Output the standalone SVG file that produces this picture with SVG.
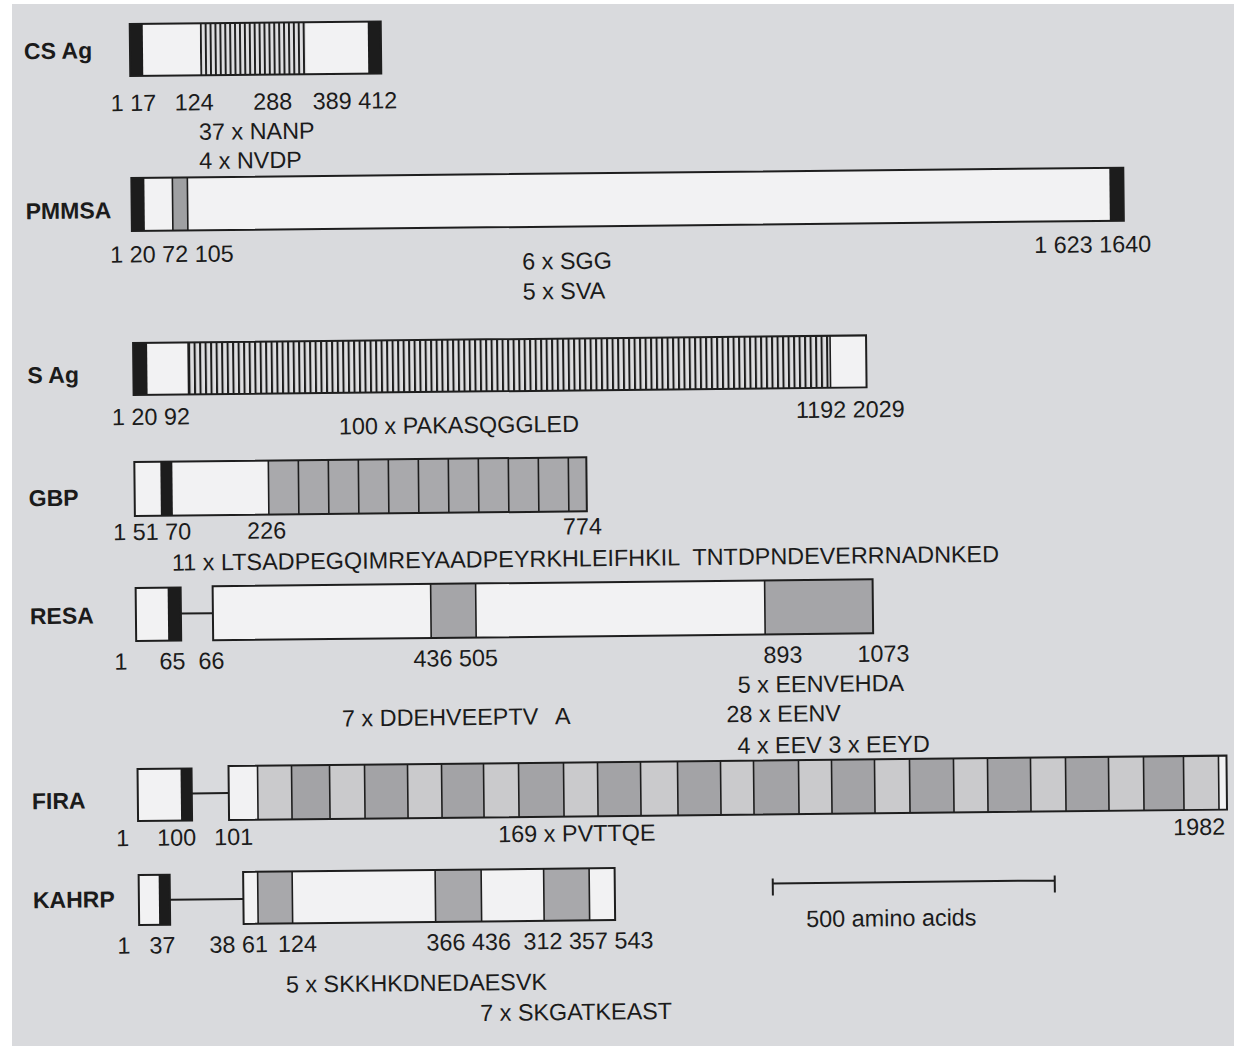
<svg xmlns="http://www.w3.org/2000/svg" width="1234" height="1050" viewBox="0 0 1234 1050">
<defs>
<style>
.lbl{font-family:'Liberation Sans',Arial,sans-serif;font-weight:bold;font-size:23px;fill:#1b1b1b}
.t{font-family:'Liberation Sans',Arial,sans-serif;font-size:23.4px;fill:#1b1b1b}
.box{fill:none;stroke:#1e1e1e;stroke-width:2}
.wh{fill:#f2f2f3}
.blk{fill:#1c1c1c}
.g1{fill:#cacacc}
.g2{fill:#a3a3a6}
.div{fill:none;stroke:#1e1e1e;stroke-width:1.6}
.conn{stroke:#1e1e1e;stroke-width:2;fill:none}
</style>
<pattern id="hatchCS" x="205" y="0" width="4.9" height="10" patternUnits="userSpaceOnUse"><rect width="4.9" height="10" fill="#dedee0"/><rect width="1.9" height="10" fill="#1c1c1c"/></pattern>
<pattern id="hatchS" x="190" y="0" width="5.5" height="10" patternUnits="userSpaceOnUse"><rect width="5.5" height="10" fill="#dedee0"/><rect width="2" height="10" fill="#1c1c1c"/></pattern>
</defs>
<rect width="1234" height="1050" fill="#ffffff"/>
<rect x="12" y="4" width="1222" height="1042" fill="#d9dadd"/>
<g transform="rotate(-0.6 617 525)">

<g id="cs-ag">
<rect class="wh" x="135" y="19" width="251" height="52"/>
<rect class="blk" x="135" y="19" width="13" height="52"/>
<rect x="205" y="19" width="106" height="52" fill="url(#hatchCS)"/>
<rect class="blk" x="373" y="19" width="13" height="52"/>
<rect class="box" x="135" y="19" width="251" height="52"/>
<text class="lbl" x="29" y="53">CS Ag</text>
<text class="t" x="115" y="106">1 17</text>
<text class="t" x="179" y="106">124</text>
<text class="t" x="257.5" y="106">288</text>
<text class="t" x="317" y="106">389 412</text>
<text class="t" x="203" y="135.5">37 x NANP</text>
<text class="t" x="203" y="164.5">4 x NVDP</text>
</g>

<g id="pmmsa">
<rect class="wh" x="135" y="173" width="992" height="53"/>
<rect class="blk" x="135" y="173" width="13" height="53"/>
<rect x="176" y="173" width="15" height="53" fill="#9fa0a2"/>
<path class="div" d="M176 173V226M191 173V226"/>
<rect class="blk" x="1113" y="173" width="14" height="53"/>
<rect class="box" x="135" y="173" width="992" height="53"/>
<text class="lbl" x="29" y="213">PMMSA</text>
<text class="t" x="113" y="257.5">1 20 72 105</text>
<text class="t" x="1037" y="257.5">1 623 1640</text>
<text class="t" x="525" y="268.5">6 x SGG</text>
<text class="t" x="525" y="298.5">5 x SVA</text>
</g>

<g id="s-ag">
<rect class="wh" x="135" y="338" width="733" height="52"/>
<rect class="blk" x="135" y="338" width="14" height="52"/>
<rect x="190" y="338" width="642" height="52" fill="url(#hatchS)"/>
<path class="div" d="M190 338V390M832 338V390"/>
<rect class="box" x="135" y="338" width="733" height="52"/>
<text class="lbl" x="29" y="377">S Ag</text>
<text class="t" x="113" y="420">1 20 92</text>
<text class="t" x="797" y="420">1192 2029</text>
<text class="t" x="340" y="431.5">100 x PAKASQGGLED</text>
</g>

<g id="gbp">
<rect class="wh" x="135" y="457" width="452" height="54"/>
<rect class="blk" x="161" y="457" width="12" height="54"/>
<rect x="269" y="457" width="318" height="54" fill="#a9a9ac"/>
<path class="div" d="M269 457V511M299 457V511M329 457V511M359 457V511M389 457V511M419 457V511M449 457V511M479 457V511M509 457V511M539 457V511M569 457V511"/>
<rect class="box" x="135" y="457" width="452" height="54"/>
<text class="lbl" x="29" y="500">GBP</text>
<text class="t" x="113" y="535">1 51 70</text>
<text class="t" x="247" y="535">226</text>
<text class="t" x="563" y="534">774</text>
<text class="t" x="171.6" y="566">11 x LTSADPEGQIMREYAADPEYRKHLEIFHKIL</text>
<text class="t" x="692" y="566">TNTDPNDEVERRNADNKED</text>
</g>

<g id="resa">
<rect class="wh" x="135" y="583" width="45" height="53"/>
<rect class="blk" x="167" y="583" width="13" height="53"/>
<rect class="box" x="135" y="583" width="45" height="53"/>
<rect class="wh" x="212" y="582" width="660" height="54"/>
<rect x="430" y="582" width="45" height="54" fill="#a5a5a8"/>
<rect x="764" y="582" width="108" height="54" fill="#a5a5a8"/>
<path class="div" d="M430 582V636M475 582V636M764 582V636"/>
<rect class="box" x="212" y="582" width="660" height="54"/>
<text class="lbl" x="29" y="618">RESA</text>
<text class="t" x="113" y="664.5">1</text>
<text class="t" x="158" y="664.5">65</text>
<text class="t" x="197" y="664.5">66</text>
<text class="t" x="412" y="664.5">436 505</text>
<text class="t" x="762" y="664.5">893</text>
<text class="t" x="856" y="664.5">1073</text>
<text class="t" x="736" y="694">5 x EENVEHDA</text>
<text class="t" x="340" y="723.5">7 x DDEHVEEPTV<tspan x="553">A</tspan></text>
<text class="t" x="724.5" y="723.5">28 x EENV</text>
<text class="t" x="735" y="755">4 x EEV 3 x EEYD</text>
</g>

<g id="fira">
<rect class="wh" x="135" y="764" width="54" height="52"/>
<rect class="blk" x="178" y="764" width="11" height="52"/>
<rect class="box" x="135" y="764" width="54" height="52"/>
<rect class="wh" x="226" y="762" width="998" height="54"/>
<g class="g1">
<rect x="255" y="762" width="34" height="54"/><rect x="327" y="762" width="35" height="54"/><rect x="405" y="762" width="34" height="54"/><rect x="481" y="762" width="35" height="54"/><rect x="561" y="762" width="34" height="54"/><rect x="638" y="762" width="37" height="54"/><rect x="718" y="762" width="33" height="54"/><rect x="796" y="762" width="33" height="54"/><rect x="872" y="762" width="35" height="54"/><rect x="951" y="762" width="34" height="54"/><rect x="1028" y="762" width="35" height="54"/><rect x="1106" y="762" width="35" height="54"/><rect x="1181" y="762" width="35" height="54"/>
</g>
<g class="g2">
<rect x="289" y="762" width="38" height="54"/><rect x="362" y="762" width="43" height="54"/><rect x="439" y="762" width="42" height="54"/><rect x="516" y="762" width="45" height="54"/><rect x="595" y="762" width="43" height="54"/><rect x="675" y="762" width="43" height="54"/><rect x="751" y="762" width="45" height="54"/><rect x="829" y="762" width="43" height="54"/><rect x="907" y="762" width="44" height="54"/><rect x="985" y="762" width="43" height="54"/><rect x="1063" y="762" width="43" height="54"/><rect x="1141" y="762" width="40" height="54"/>
</g>
<path class="div" d="M255 762V816M289 762V816M327 762V816M362 762V816M405 762V816M439 762V816M481 762V816M516 762V816M561 762V816M595 762V816M638 762V816M675 762V816M718 762V816M751 762V816M796 762V816M829 762V816M872 762V816M907 762V816M951 762V816M985 762V816M1028 762V816M1063 762V816M1106 762V816M1141 762V816M1181 762V816M1216 762V816"/>
<rect class="box" x="226" y="762" width="998" height="54"/>
<text class="lbl" x="29" y="803">FIRA</text>
<text class="t" x="113" y="841">1</text>
<text class="t" x="154" y="841">100</text>
<text class="t" x="211" y="841">101</text>
<text class="t" x="495" y="841">169 x PVTTQE</text>
<text class="t" x="1170" y="841">1982</text>
</g>

<g id="kahrp">
<rect class="wh" x="135" y="870" width="31" height="50"/>
<rect class="blk" x="155" y="870" width="11" height="50"/>
<rect class="box" x="135" y="870" width="31" height="50"/>
<rect class="wh" x="239.5" y="868" width="371.5" height="52"/>
<rect x="254" y="868" width="34.5" height="52" fill="#a8a8ab"/>
<rect x="431.5" y="868" width="46" height="52" fill="#a8a8ab"/>
<rect x="540" y="868" width="45.5" height="52" fill="#a8a8ab"/>
<path class="div" d="M254 868V920M288.5 868V920M431.5 868V920M477.5 868V920M540 868V920M585.5 868V920"/>
<rect class="box" x="239.5" y="868" width="371.5" height="52"/>
<text class="lbl" x="29" y="902">KAHRP</text>
<text class="t" x="113" y="948.5">1</text>
<text class="t" x="145" y="948.5">37</text>
<text class="t" x="205" y="948.5">38 61</text>
<text class="t" x="273.5" y="948.5">124</text>
<text class="t" x="422" y="948.5">366 436</text>
<text class="t" x="519" y="948.5">312 357 543</text>
<text class="t" x="281" y="989">5 x SKKHKDNEDAESVK</text>
<text class="t" x="475" y="1019.5">7 x SKGATKEAST</text>
</g>

<g id="scale-bar">
<path class="conn" d="M769 885H1051M769 880V897M1051 880V897"/>
<text class="t" x="802" y="929">500 amino acids</text>
</g>

<g id="connectors">
<path class="conn" d="M180 609H212"/>
<path class="conn" d="M189 789H226"/>
<path class="conn" d="M166 895H239.5"/>
</g>

</g>
</svg>
